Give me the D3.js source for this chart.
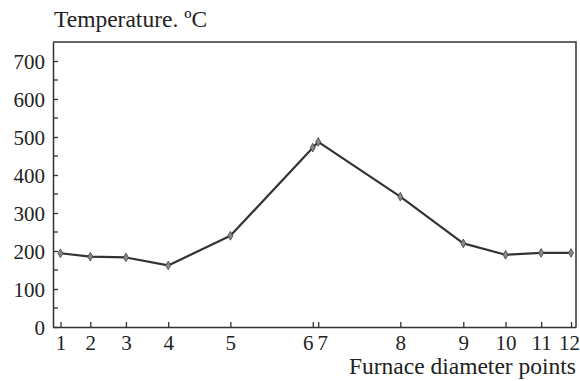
<!DOCTYPE html>
<html>
<head>
<meta charset="utf-8">
<script src="https://cdn.jsdelivr.net/npm/d3@7"></script>
<style>
  body { margin: 0; background: #fff; }
  text { font-family: "Liberation Serif", "DejaVu Serif", serif; fill: #222; }
</style>
</head>
<body>
<div id="chart"></div>
<script>
// Point labels along the furnace diameter
var pointLabels = ["1", "2", "3", "4", "5", "6", "7", "8", "9", "10", "11", "12"];
// Position of each point across the diameter (relative units, centre = 0)
var pointPos = [-1540, -1360, -1145, -890, -515, -18, 15, 510, 890, 1145, 1360, 1540];
// Temperature at each point, °C
var temps = [194, 185, 183, 162, 240, 472, 487, 343, 220, 190, 195, 195];
var yTicks = [0, 100, 200, 300, 400, 500, 600, 700];
var yMinor = [50, 150, 250, 350, 450, 550, 650];

// Size and margins
var margin = { top: 42, right: 4, bottom: 54, left: 53 },
    width = 580 - margin.left - margin.right,
    height = 381 - margin.top - margin.bottom;

var svg = d3.select("#chart").append("svg")
    .attr("width", 580)
    .attr("height", 381)
    .append("g")
    .attr("transform", "translate(" + margin.left + "," + margin.top + ")");

var x = d3.scaleLinear().domain([-1585, 1570]).range([0, width]);
var y = d3.scaleLinear().domain([0, 750]).range([height, 0]);

var axisColor = "#333";

// Frame (top and right)
svg.append("path")
    .attr("d", "M0,0H" + width + "V" + height)
    .attr("fill", "none")
    .attr("stroke", axisColor)
    .attr("stroke-width", 1.5);

// Y axis with inward ticks
var yAxis = svg.append("g")
    .call(d3.axisLeft(y).tickValues(yTicks).tickSize(-5).tickPadding(8).tickSizeOuter(0));

// Minor ticks at the half hundreds
svg.append("g")
    .selectAll("line")
    .data(yMinor)
    .enter().append("line")
    .attr("x1", 0).attr("x2", 5)
    .attr("y1", function (d) { return y(d); })
    .attr("y2", function (d) { return y(d); })
    .attr("stroke", axisColor)
    .attr("stroke-width", 1.3);

// X axis with inward ticks at each point
var xAxis = svg.append("g")
    .attr("transform", "translate(0," + height + ")")
    .call(d3.axisBottom(x).tickValues(pointPos)
        .tickFormat(function (d, i) { return pointLabels[i]; })
        .tickSize(-5).tickPadding(8).tickSizeOuter(0));

[yAxis, xAxis].forEach(function (a) {
    a.attr("font-family", "Liberation Serif, serif").attr("font-size", 21);
    a.select(".domain").attr("stroke", axisColor).attr("stroke-width", 1.5);
    a.selectAll(".tick line").attr("stroke", axisColor).attr("stroke-width", 1.3);
    a.selectAll(".tick text")
        .attr("font-family", "Liberation Serif, serif")
        .attr("fill", "#222");
});
yAxis.selectAll(".tick text").attr("dy", "0.34em");

// Push the 6 / 7 labels apart, keep 12 inside the page
xAxis.selectAll(".tick text")
    .attr("dx", function (d, i) { return i === 5 ? -5 : (i === 6 ? 4 : (i === 11 ? -2 : 0)); });

// Temperature line
var line = d3.line()
    .x(function (d, i) { return x(pointPos[i]); })
    .y(function (d) { return y(d); });

svg.append("path")
    .datum(temps)
    .attr("d", line)
    .attr("fill", "none")
    .attr("stroke", "#333")
    .attr("stroke-width", 2.2)
    .attr("stroke-linejoin", "round");

// Diamond markers
svg.selectAll(".marker")
    .data(temps)
    .enter().append("path")
    .attr("class", "marker")
    .attr("d", d3.symbol().type(d3.symbolDiamond).size(22))
    .attr("transform", function (d, i) { return "translate(" + x(pointPos[i]) + "," + y(d) + ")"; })
    .attr("fill", "#888")
    .attr("stroke", "#444")
    .attr("stroke-width", 0.8);

// Axis titles
svg.append("text")
    .attr("x", 1)
    .attr("y", -15)
    .style("font-size", "23.5px")
    .text("Temperature. ºC");

svg.append("text")
    .attr("x", width)
    .attr("y", height + 47)
    .attr("text-anchor", "end")
    .style("font-size", "23.5px")
    .text("Furnace diameter points");
</script>
</body>
</html>
